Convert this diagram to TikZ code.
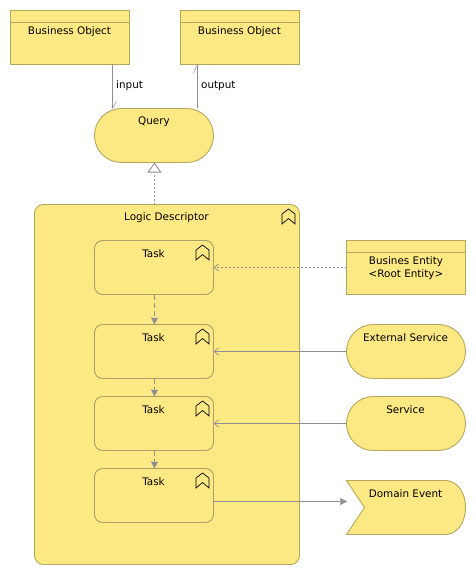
\documentclass[tikz,border=0pt]{standalone}
\usepackage{fontspec}
\setmainfont{DejaVu Sans}
\usetikzlibrary{arrows.meta}
\definecolor{fillY}{HTML}{FDE984}
\definecolor{edgeY}{HTML}{B5A85C}
\definecolor{taskE}{HTML}{ABA169}
\definecolor{conn}{HTML}{8E8E93}
\tikzset{
  x=1pt,y=-1pt,
  lbl/.style={font=\fontsize{10.4}{13}\selectfont,text=black,inner sep=0pt,align=center},
  shp/.style={draw=edgeY,fill=fillY,line width=0.9pt},
  taskbox/.style={draw=taskE,fill=fillY,line width=0.9pt,rounded corners=8pt},
  chev/.style={draw=black,line width=0.7pt,line join=miter},
  wire/.style={draw=conn,line width=0.9pt},
  solidhead/.style={-{Stealth[length=7pt,width=7pt,inset=0.8pt,fill=conn]}},
  openhead/.style={-{Straight Barb[length=4.5pt,width=7pt,line width=0.7pt]}},
  realize/.style={-{Triangle[open,length=10pt,width=14pt,fill=white]},dash pattern=on 2pt off 2pt},
}
\newcommand{\objbox}[5]{% name x1 y1 x2 y2
  \path[shp] (#2,#3) rectangle (#4,#5);
  \path[draw=edgeY,line width=0.8pt] (#2,#3+12) -- (#4,#3+12);
  \coordinate (#1) at ({(#2+#4)/2},{(#3+#5)/2});
}
\newcommand{\chevron}[2]{% x y = top tip
  \draw[chev] (#1-6.5,#2+5) -- (#1,#2) -- (#1+6.5,#2+5) -- (#1+6.5,#2+15) -- (#1,#2+9.5) -- (#1-6.5,#2+15) -- cycle;
}
\begin{document}
\begin{tikzpicture}
\useasboundingbox (0,0) rectangle (476,575);
\path[fill=white] (0,0) rectangle (476,575);
% logic descriptor
\path[shp,rounded corners=9pt] (34.5,204.5) rectangle (299.5,564.5);
\coordinate (logicTop) at (154.5,204.5);
% objects
\objbox{bo1}{10.5}{10.5}{129.5}{64.5}
\objbox{bo2}{180.5}{10.5}{299.5}{64.5}
\objbox{ent}{346.5}{240.5}{465.5}{294.5}
% query and services
\path[shp,rounded corners=26.9pt] (94.5,108.5) rectangle (213.5,162.5);
\path[shp,rounded corners=26.9pt] (346.5,324.5) rectangle (465.5,378.5);
\path[shp,rounded corners=26.9pt] (346.5,396.5) rectangle (465.5,450.5);
% domain event
\path[shp,line join=miter] (346.5,480.5) -- (445,480.5) .. controls (457,480.5) and (465.5,492) .. (465.5,507.5) .. controls (465.5,523) and (457,534.5) .. (445,534.5) -- (346.5,534.5) -- (364.5,507.5) -- cycle;
% tasks
\path[taskbox] (94.5,240.5) rectangle (213.5,294.5);
\path[taskbox] (94.5,324.5) rectangle (213.5,378.5);
\path[taskbox] (94.5,396.5) rectangle (213.5,450.5);
\path[taskbox] (94.5,468.5) rectangle (213.5,522.5);
% labels
\node[lbl] (tbo1) at (69.5,31.5) {Business Object};
\node[lbl] (tbo2) at (239.5,31.5) {Business Object};
\node[lbl] (tq) at (154,121.5) {Query};
\node[lbl] (tl) at (166.5,217.5) {Logic Descriptor};
\node[lbl] (t1) at (153.5,253.5) {Task};
\node[lbl] (t2) at (153.5,337.5) {Task};
\node[lbl] (t3) at (153.5,409.5) {Task};
\node[lbl] (t4) at (153.5,481.5) {Task};
\node[lbl] (te) at (406,268) {Busines Entity\\<Root Entity>};
\node[lbl] (tx) at (405.5,337.5) {External Service};
\node[lbl] (ts) at (405.5,409.5) {Service};
\node[lbl] (td) at (405.5,493.5) {Domain Event};
\node[lbl,anchor=west] (li) at (116,86) {input};
\node[lbl,anchor=west] (lo) at (201,86) {output};
% chevrons
\chevron{288.5}{209}
\chevron{202.5}{245}
\chevron{202.5}{329}
\chevron{202.5}{401}
\chevron{202.5}{473}
% connectors
\coordinate (a1) at (112.5,64.5); \coordinate (a2) at (112.5,108.5);
\coordinate (a3) at (116.5,101.5);
\coordinate (b1) at (197.5,108.5); \coordinate (b2) at (197.5,64.5);
\coordinate (b3) at (193.5,73);
\draw[wire] (a1) -- (a2); \draw[wire,line width=0.5pt] (a2) -- (a3);
\draw[wire] (b1) -- (b2); \draw[wire,line width=0.5pt] (b2) -- (b3);
\coordinate (c1) at (154.5,204.5); \coordinate (c2) at (154.5,162.5);
\draw[wire,realize] (c1) -- (c2);
\coordinate (e1) at (346.5,267.5); \coordinate (e2) at (213.5,267.5);
\draw[wire,openhead,dash pattern=on 2pt off 2pt,line width=0.6pt] (e1) -- (e2);
\coordinate (x1) at (346.5,351.5); \coordinate (x2) at (213.5,351.5);
\draw[wire,openhead] (x1) -- (x2);
\coordinate (s1) at (346.5,423.5); \coordinate (s2) at (213.5,423.5);
\draw[wire,openhead] (s1) -- (s2);
\coordinate (d1) at (213.5,501.5); \coordinate (d2) at (347,501.5);
\draw[wire,solidhead] (d1) -- (d2);
\coordinate (f1) at (154.5,294.5); \coordinate (f2) at (154.5,324.5);
\draw[wire,solidhead,dash pattern=on 5pt off 3pt] (f1) -- (f2);
\coordinate (g1) at (154.5,378.5); \coordinate (g2) at (154.5,396.5);
\draw[wire,solidhead,dash pattern=on 5pt off 3pt] (g1) -- (g2);
\coordinate (h1) at (154.5,450.5); \coordinate (h2) at (154.5,468.5);
\draw[wire,solidhead,dash pattern=on 5pt off 3pt] (h1) -- (h2);
\end{tikzpicture}
\end{document}
